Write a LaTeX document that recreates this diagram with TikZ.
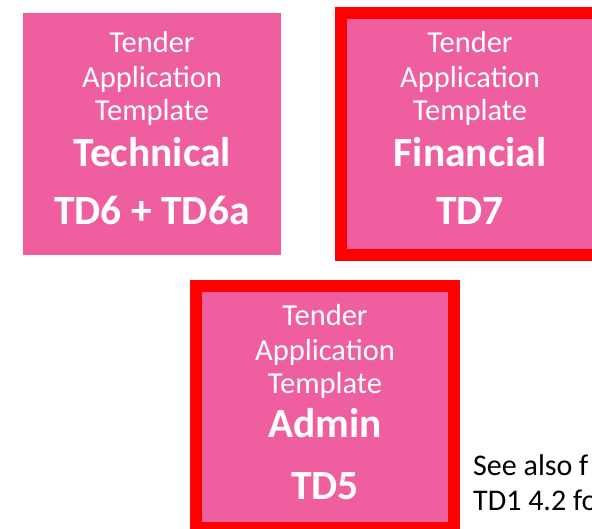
\documentclass[tikz,border=0pt]{standalone}
\usepackage{fontspec}
\setmainfont{Carlito}
\definecolor{tpink}{HTML}{EF5FA0}
\definecolor{tred}{HTML}{FF0000}
\tikzset{
  tbox/.style={fill=tpink, draw=none, minimum width=258pt, minimum height=242pt, inner sep=0pt, outer sep=0pt, anchor=north west},
  redframe/.style={draw=tred, line width=12pt},
  reg/.style={text=white, font=\fontsize{30.5}{34}\selectfont, anchor=base, inner sep=0pt},
  bld/.style={text=white, font=\fontsize{41.5}{46}\selectfont\bfseries, anchor=base, inner sep=0pt},
  note/.style={text=black, font=\fontsize{30}{35}\selectfont, anchor=base west, inner sep=0pt}
}
\begin{document}
\begin{tikzpicture}[x=1pt,y=-1pt]
\useasboundingbox (0,0) rectangle (592,529);
\clip (0,0) rectangle (592,529);
\fill[white] (0,0) rectangle (592,529);
% box 1
\node[tbox] (b1) at (23,13) {};
\node[reg] (b1a) at ([yshift=-40pt]b1.north) {Tender};
\node[reg] (b1b) at ([yshift=-75pt]b1.north) {Application};
\node[reg] (b1c) at ([yshift=-107.5pt]b1.north) {Template};
\node[bld] (b1d) at ([yshift=-154pt]b1.north) {Technical};
\node[bld] (b1e) at ([yshift=-212pt]b1.north) {TD6 + TD6a};
% box 2
\node[tbox, redframe] (b2) at (341,13) {};
\node[reg] (b2a) at ([yshift=-40pt]b2.north) {Tender};
\node[reg] (b2b) at ([yshift=-75pt]b2.north) {Application};
\node[reg] (b2c) at ([yshift=-107.5pt]b2.north) {Template};
\node[bld] (b2d) at ([yshift=-154pt]b2.north) {Financial};
\node[bld] (b2e) at ([yshift=-212pt]b2.north) {TD7};
% box 3
\node[tbox, redframe] (b3) at (196,286) {};
\node[reg] (b3a) at ([yshift=-40pt]b3.north) {Tender};
\node[reg] (b3b) at ([yshift=-75pt]b3.north) {Application};
\node[reg] (b3c) at ([yshift=-107.5pt]b3.north) {Template};
\node[bld] (b3d) at ([yshift=-151pt]b3.north) {Admin};
\node[bld] (b3e) at ([yshift=-213pt]b3.north) {TD5};
% note (cut off by the right edge, as in the original)
\node[note] (n1) at (473,475) {See also f};
\node[note] (n2) at (473,510) {TD1 4.2 fo};
\end{tikzpicture}
\end{document}
